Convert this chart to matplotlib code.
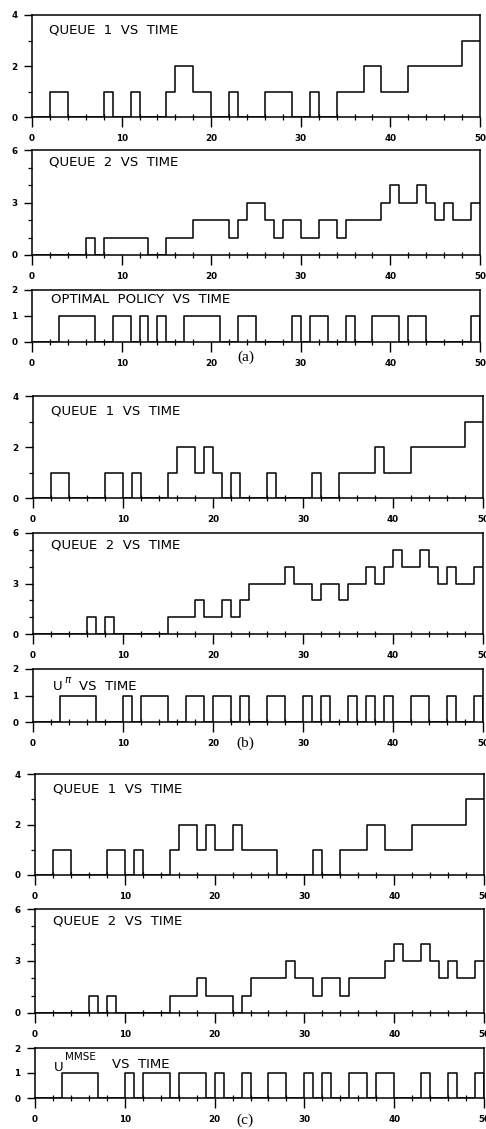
import matplotlib
matplotlib.use('Agg')
import matplotlib.pyplot as plt
from matplotlib.ticker import MultipleLocator
from matplotlib.font_manager import FontProperties

T_END = 50

# ---- (a) optimal policy ----
q1_a_t = [0, 2, 4, 8, 9, 11, 12, 15, 16, 18, 20, 22, 23, 26, 29, 31, 32, 34, 37, 39, 42, 48]
q1_a_v = [0, 1, 0, 1, 0, 1, 0, 1, 2, 1, 0, 1, 0, 1, 0, 1, 0, 1, 2, 1, 2, 3]
q2_a_t = [0, 6, 7, 8, 13, 15, 18, 22, 23, 24, 26, 27, 28, 30, 32, 34, 35, 39, 40, 41, 43, 44, 45, 46, 47, 49]
q2_a_v = [0, 1, 0, 1, 0, 1, 2, 1, 2, 3, 2, 1, 2, 1, 2, 1, 2, 3, 4, 3, 4, 3, 2, 3, 2, 3]
u_a_on = [3, 9, 12, 14, 17, 23, 29, 31, 35, 38, 42, 49]
u_a_off = [7, 11, 13, 15, 21, 25, 30, 33, 36, 41, 44, 50]

# ---- (b) U^pi policy ----
q1_b_t = [0, 2, 4, 8, 10, 11, 12, 15, 16, 18, 19, 20, 21, 22, 23, 26, 27, 31, 32, 34, 38, 39, 42, 48]
q1_b_v = [0, 1, 0, 1, 0, 1, 0, 1, 2, 1, 2, 1, 0, 1, 0, 1, 0, 1, 0, 1, 2, 1, 2, 3]
q2_b_t = [0, 6, 7, 8, 9, 15, 18, 19, 21, 22, 23, 24, 28, 29, 31, 32, 34, 35, 37, 38, 39, 40, 41, 43, 44, 45, 46, 47, 49]
q2_b_v = [0, 1, 0, 1, 0, 1, 2, 1, 2, 1, 2, 3, 4, 3, 2, 3, 2, 3, 4, 3, 4, 5, 4, 5, 4, 3, 4, 3, 4]
u_b_on = [3, 10, 12, 17, 20, 23, 26, 30, 32, 35, 37, 39, 42, 46, 49]
u_b_off = [7, 11, 15, 19, 22, 24, 28, 31, 33, 36, 38, 40, 44, 47, 50]

# ---- (c) U^MMSE policy ----
q1_c_t = [0, 2, 4, 8, 10, 11, 12, 15, 16, 18, 19, 20, 22, 23, 27, 31, 32, 34, 37, 39, 42, 48]
q1_c_v = [0, 1, 0, 1, 0, 1, 0, 1, 2, 1, 2, 1, 2, 1, 0, 1, 0, 1, 2, 1, 2, 3]
q2_c_t = [0, 6, 7, 8, 9, 15, 18, 19, 22, 23, 24, 28, 29, 31, 32, 34, 35, 39, 40, 41, 43, 44, 45, 46, 47, 49]
q2_c_v = [0, 1, 0, 1, 0, 1, 2, 1, 0, 1, 2, 3, 2, 1, 2, 1, 2, 3, 4, 3, 4, 3, 2, 3, 2, 3]
u_c_on = [3, 10, 12, 16, 20, 23, 26, 30, 32, 35, 38, 43, 46, 49]
u_c_off = [7, 11, 15, 19, 21, 24, 28, 31, 33, 37, 40, 44, 47, 50]

FIG_W, FIG_H = 486, 1129
TICK_FONT = FontProperties(family='DejaVu Sans', weight='bold', size=6.3)


def pulses_to_steps(on, off):
    t, v = [0], [0]
    for a, b in zip(on, off):
        t += [a, b]
        v += [1, 0]
    return t, v


def px_rect(x0, x1, ytop, ybot):
    return [x0 / FIG_W, 1 - ybot / FIG_H, (x1 - x0) / FIG_W, (ybot - ytop) / FIG_H]


def draw_panel(fig, rect, t, v, ymax, ymajor, yminor):
    ax = fig.add_axes(rect)
    x = list(t) + [T_END]
    y = list(v) + [v[-1]]
    ax.step(x, y, where='post', color='black', lw=1.1)
    ax.set_xlim(0, T_END)
    ax.set_ylim(0, ymax)
    ax.xaxis.set_major_locator(MultipleLocator(10))
    ax.xaxis.set_minor_locator(MultipleLocator(2))
    ax.yaxis.set_major_locator(MultipleLocator(ymajor))
    if yminor:
        ax.yaxis.set_minor_locator(MultipleLocator(yminor))
    ax.tick_params(axis='x', which='major', direction='out', length=7, width=1, pad=5.5)
    ax.tick_params(axis='x', which='minor', direction='inout', length=4, width=0.9)
    ax.tick_params(axis='y', which='major', direction='out', length=6, width=1, pad=4.5)
    ax.tick_params(axis='y', which='minor', direction='out', length=3, width=0.9)
    for lab in ax.get_xticklabels() + ax.get_yticklabels():
        lab.set_fontproperties(TICK_FONT)
    for s in ax.spines.values():
        s.set_linewidth(1.1)
    return ax


fig = plt.figure(figsize=(FIG_W / 100, FIG_H / 100), dpi=100)

groups = [
    # x0, x1, (top, bottom) for the three rows, data, policy label
    (32, 480, [(15, 117), (150, 255), (290, 342)],
     (q1_a_t, q1_a_v), (q2_a_t, q2_a_v), (u_a_on, u_a_off), 'opt', '(a)', 357),
    (33, 483, [(396, 498), (533, 634), (669, 722)],
     (q1_b_t, q1_b_v), (q2_b_t, q2_b_v), (u_b_on, u_b_off), 'pi', '(b)', 743),
    (35, 484, [(774, 875), (909, 1013), (1048, 1098)],
     (q1_c_t, q1_c_v), (q2_c_t, q2_c_v), (u_c_on, u_c_off), 'mmse', '(c)', 1120),
]

title_kw = dict(family='DejaVu Sans', fontsize=9.5, color='black', va='baseline', ha='left')
sup_kw = dict(family='DejaVu Sans', fontsize=7.5, color='black', va='baseline', ha='left')

for x0, x1, rows, q1, q2, pol, kind, tag, tag_y in groups:
    ax1 = draw_panel(fig, px_rect(x0, x1, *rows[0]), q1[0], q1[1], 4, 2, 1)
    ax1.text(0.039, 0.82, 'QUEUE  1  VS  TIME', transform=ax1.transAxes, **title_kw)

    ax2 = draw_panel(fig, px_rect(x0, x1, *rows[1]), q2[0], q2[1], 6, 3, 1)
    ax2.text(0.039, 0.85, 'QUEUE  2  VS  TIME', transform=ax2.transAxes, **title_kw)

    pt, pv = pulses_to_steps(*pol)
    ax3 = draw_panel(fig, px_rect(x0, x1, *rows[2]), pt, pv, 2, 1, None)
    if kind == 'opt':
        ax3.text(0.042, 0.75, 'OPTIMAL  POLICY  VS  TIME', transform=ax3.transAxes, **title_kw)
    elif kind == 'pi':
        ax3.text(0.044, 0.60, 'U', transform=ax3.transAxes, **title_kw)
        ax3.text(0.068, 0.74, r'$\pi$', transform=ax3.transAxes, **sup_kw)
        ax3.text(0.102, 0.60, 'VS  TIME', transform=ax3.transAxes, **title_kw)
    else:
        ax3.text(0.042, 0.54, 'U', transform=ax3.transAxes, **title_kw)
        ax3.text(0.067, 0.75, 'MMSE', transform=ax3.transAxes, **sup_kw)
        ax3.text(0.171, 0.61, 'VS  TIME', transform=ax3.transAxes, **title_kw)

    fig.text(0.505, 1 - tag_y / FIG_H, tag, family='Liberation Serif', fontsize=11,
             ha='center', va='center')

fig.savefig('out.png', dpi=100)
